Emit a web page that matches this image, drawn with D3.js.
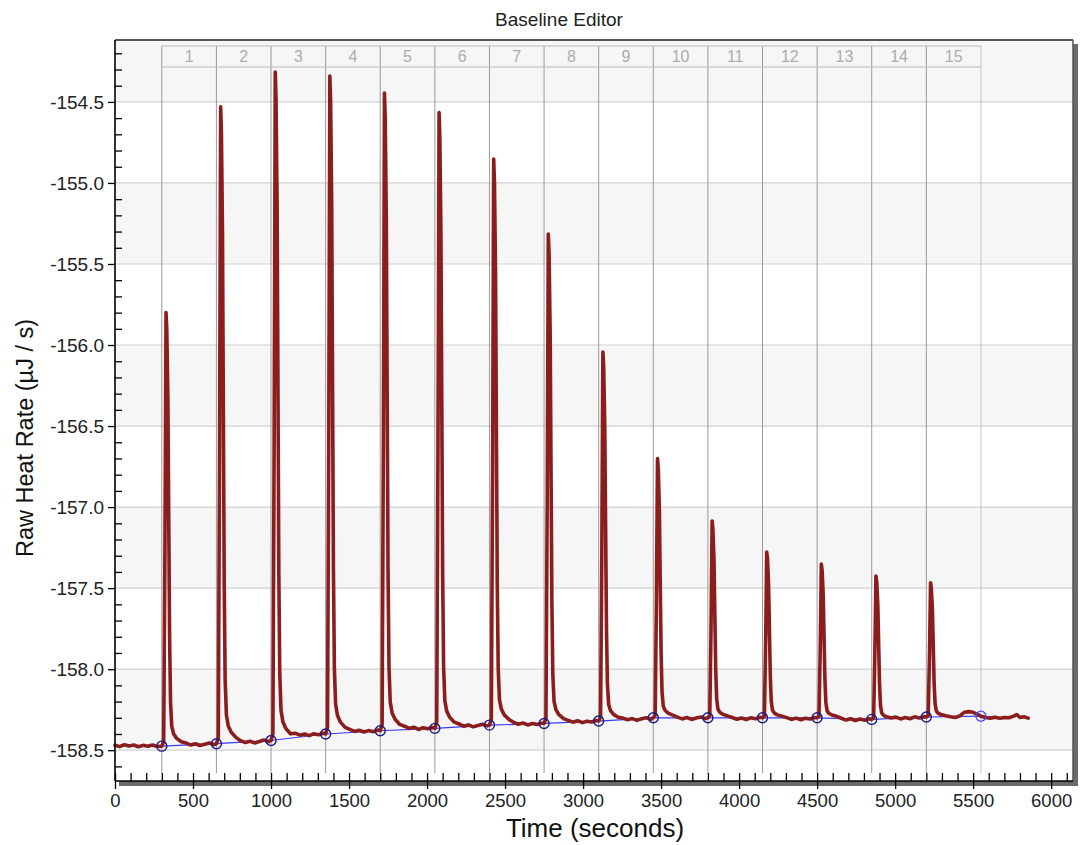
<!DOCTYPE html>
<html><head><meta charset="utf-8">
<script src="https://cdn.jsdelivr.net/npm/d3@7"></script>
<style>body{margin:0;background:#fff}svg{display:block}text{font-family:"Liberation Sans",Arial,sans-serif}</style>
</head><body><svg id="c" width="1080" height="845"></svg>
<script>
const chartTitle = "Baseline Editor";
const xTitle = "Time (seconds)";
const yTitle = "Raw Heat Rate (\u00b5J / s)";
const xMajorTicks = [0,500,1000,1500,2000,2500,3000,3500,4000,4500,5000,5500,6000];
const yMajorTicks = [-154.5,-155.0,-155.5,-156.0,-156.5,-157.0,-157.5,-158.0,-158.5];
const injectionLabels = ["1","2","3","4","5","6","7","8","9","10","11","12","13","14","15"];
const injectionTimes = [300,650,1000,1350,1700,2050,2400,2750,3100,3450,3800,4150,4500,4850,5200,5550];
const baselineValues = [-158.475,-158.46,-158.44,-158.40,-158.38,-158.365,-158.345,-158.335,-158.32,-158.30,-158.30,-158.30,-158.30,-158.31,-158.295,-158.29];
const rawTrace = [
[0,-158.470],[30,-158.478],[60,-158.466],[90,-158.474],[120,-158.468],[150,-158.479],[180,-158.470],[210,-158.476],[240,-158.468],[270,-158.477],
[300,-158.475],[312,-158.448],[320,-157.271],[327,-155.800],[332,-155.907],[339,-156.335],[345,-157.137],[350,-157.806],[356,-158.207],[364,-158.355],[376,-158.400],[395,-158.427],[425,-158.448],[455,-158.455],[485,-158.468],[515,-158.460],[545,-158.471],[575,-158.463],[605,-158.456],[635,-158.466],
[650,-158.460],[662,-158.421],[670,-156.691],[677,-154.530],[682,-154.687],[689,-155.316],[695,-156.495],[700,-157.477],[706,-158.067],[714,-158.283],[726,-158.350],[745,-158.389],[775,-158.421],[805,-158.442],[835,-158.452],[865,-158.445],[895,-158.455],[925,-158.446],[955,-158.437],[985,-158.447],
[1000,-158.440],[1012,-158.399],[1020,-156.584],[1027,-154.315],[1032,-154.480],[1039,-155.140],[1045,-156.377],[1050,-157.409],[1056,-158.027],[1064,-158.254],[1076,-158.324],[1095,-158.366],[1125,-158.399],[1155,-158.395],[1185,-158.407],[1215,-158.400],[1245,-158.410],[1275,-158.398],[1305,-158.404],[1335,-158.396],
[1350,-158.400],[1362,-158.359],[1370,-156.573],[1377,-154.340],[1382,-154.502],[1389,-155.152],[1395,-156.370],[1400,-157.385],[1406,-157.994],[1414,-158.217],[1426,-158.286],[1445,-158.327],[1475,-158.359],[1505,-158.372],[1535,-158.384],[1565,-158.377],[1595,-158.388],[1625,-158.379],[1655,-158.386],[1685,-158.376],
[1700,-158.380],[1712,-158.341],[1720,-156.609],[1727,-154.445],[1732,-154.602],[1739,-155.232],[1745,-156.412],[1750,-157.396],[1756,-157.986],[1764,-158.203],[1776,-158.270],[1795,-158.309],[1825,-158.341],[1855,-158.352],[1885,-158.366],[1915,-158.358],[1945,-158.372],[1975,-158.361],[2005,-158.368],[2035,-158.360],
[2050,-158.365],[2062,-158.327],[2070,-156.655],[2077,-154.566],[2082,-154.718],[2089,-155.326],[2095,-156.465],[2100,-157.415],[2106,-157.985],[2114,-158.194],[2126,-158.259],[2145,-158.297],[2175,-158.327],[2205,-158.338],[2235,-158.352],[2265,-158.344],[2295,-158.356],[2325,-158.347],[2355,-158.340],[2385,-158.350],
[2400,-158.345],[2412,-158.310],[2420,-156.773],[2427,-154.852],[2432,-154.992],[2439,-155.551],[2445,-156.598],[2450,-157.472],[2456,-157.996],[2464,-158.188],[2476,-158.247],[2495,-158.282],[2525,-158.310],[2555,-158.328],[2585,-158.340],[2615,-158.332],[2645,-158.344],[2675,-158.335],[2705,-158.341],[2735,-158.333],
[2750,-158.335],[2762,-158.305],[2770,-156.976],[2777,-155.315],[2782,-155.436],[2789,-155.919],[2795,-156.825],[2800,-157.580],[2806,-158.033],[2814,-158.199],[2826,-158.250],[2845,-158.281],[2875,-158.305],[2905,-158.316],[2935,-158.327],[2965,-158.318],[2995,-158.330],[3025,-158.321],[3055,-158.326],[3085,-158.317],
[3100,-158.320],[3112,-158.297],[3120,-157.295],[3127,-156.043],[3132,-156.134],[3139,-156.498],[3145,-157.181],[3150,-157.751],[3156,-158.092],[3164,-158.218],[3176,-158.256],[3195,-158.279],[3225,-158.297],[3255,-158.302],[3285,-158.312],[3315,-158.305],[3345,-158.316],[3375,-158.306],[3405,-158.300],[3435,-158.309],
[3450,-158.300],[3462,-158.284],[3470,-157.580],[3477,-156.700],[3482,-156.764],[3489,-157.020],[3495,-157.500],[3500,-157.900],[3506,-158.140],[3514,-158.228],[3526,-158.255],[3545,-158.271],[3575,-158.284],[3605,-158.296],[3635,-158.307],[3665,-158.298],[3695,-158.310],[3725,-158.301],[3755,-158.295],[3785,-158.305],
[3800,-158.300],[3812,-158.288],[3820,-157.754],[3827,-157.086],[3832,-157.135],[3839,-157.329],[3845,-157.693],[3850,-157.996],[3856,-158.179],[3864,-158.245],[3876,-158.266],[3895,-158.278],[3925,-158.288],[3955,-158.298],[3985,-158.309],[4015,-158.301],[4045,-158.311],[4075,-158.300],[4105,-158.306],[4135,-158.297],
[4150,-158.300],[4162,-158.290],[4170,-157.840],[4177,-157.278],[4182,-157.319],[4189,-157.482],[4195,-157.789],[4200,-158.044],[4206,-158.198],[4214,-158.254],[4226,-158.271],[4245,-158.282],[4275,-158.290],[4305,-158.299],[4335,-158.310],[4365,-158.302],[4395,-158.312],[4425,-158.303],[4455,-158.308],[4485,-158.298],
[4500,-158.300],[4512,-158.291],[4520,-157.873],[4527,-157.352],[4532,-157.390],[4539,-157.542],[4545,-157.826],[4550,-158.063],[4556,-158.205],[4564,-158.257],[4576,-158.273],[4595,-158.283],[4625,-158.291],[4655,-158.303],[4685,-158.314],[4715,-158.306],[4745,-158.317],[4775,-158.308],[4805,-158.315],[4835,-158.306],
[4850,-158.310],[4862,-158.301],[4870,-157.912],[4877,-157.426],[4882,-157.461],[4889,-157.603],[4895,-157.868],[4900,-158.089],[4906,-158.222],[4914,-158.270],[4926,-158.285],[4945,-158.294],[4975,-158.301],[5005,-158.296],[5035,-158.307],[5065,-158.298],[5095,-158.306],[5125,-158.294],[5155,-158.301],[5185,-158.293],
[5200,-158.295],[5212,-158.287],[5220,-157.922],[5227,-157.467],[5232,-157.500],[5239,-157.633],[5245,-157.881],[5250,-158.088],[5256,-158.212],[5264,-158.258],[5276,-158.272],[5295,-158.280],[5325,-158.287],[5355,-158.293],[5385,-158.298],[5415,-158.288],[5440,-158.268],[5470,-158.262],[5500,-158.266],[5530,-158.280],[5550,-158.290],[5580,-158.298],[5610,-158.302],[5640,-158.296],[5670,-158.303],[5700,-158.298],[5730,-158.300],[5760,-158.290],[5780,-158.280],[5800,-158.298],[5825,-158.294],[5853,-158.302]
];

const svg = d3.select("#c");
const L = 115, R = 1073, T = 40, B = 781;
const x = d3.scaleLinear().domain([0, 6140]).range([L, R]);
const y = d3.scaleLinear().domain([-158.69, -154.118]).range([B, T]);

// shadow
svg.append("rect").attr("x", R).attr("y", T + 4).attr("width", 5).attr("height", B - T + 1).attr("fill", "#6a6a6a");
svg.append("rect").attr("x", L + 4).attr("y", B).attr("width", R - L + 1).attr("height", 5).attr("fill", "#6a6a6a");
// plot background
svg.append("rect").attr("x", L).attr("y", T).attr("width", R - L).attr("height", B - T).attr("fill", "#fff");

// alternating bands
const edges = [y.domain()[1], ...yMajorTicks, y.domain()[0]];
for (let i = 0; i < edges.length - 1; i++) {
  if (i % 2 === 0) {
    svg.append("rect").attr("x", L).attr("width", R - L)
      .attr("y", y(edges[i])).attr("height", y(edges[i + 1]) - y(edges[i]))
      .attr("fill", "#f6f6f6");
  }
}
// horizontal grid
svg.append("g").selectAll("line").data(yMajorTicks).join("line")
  .attr("x1", L).attr("x2", R).attr("y1", d => y(d)).attr("y2", d => y(d))
  .attr("stroke", "#d2d2d2").attr("stroke-width", 1.2);

// injection header + vertical lines
const hTop = 46, hBot = 67, vBot = 773;
svg.append("g").selectAll("line").data(injectionTimes).join("line")
  .attr("x1", d => x(d)).attr("x2", d => x(d)).attr("y1", hTop).attr("y2", vBot)
  .attr("stroke", (d, i) => i === injectionTimes.length - 1 ? "#c4c4c4" : "#9a9a9a").attr("stroke-width", 1);
[hTop, hBot].forEach(yy => svg.append("line")
  .attr("x1", x(injectionTimes[0])).attr("x2", x(injectionTimes[injectionTimes.length - 1]))
  .attr("y1", yy).attr("y2", yy).attr("stroke", "#b8b8b8").attr("stroke-width", 1.2));
svg.append("g").selectAll("text").data(injectionLabels).join("text")
  .attr("x", (d, i) => (x(injectionTimes[i]) + x(injectionTimes[i + 1])) / 2)
  .attr("y", 62).attr("text-anchor", "middle").attr("font-size", 16).attr("fill", "#ababab")
  .text(d => d);

// baseline
svg.append("path").datum(injectionTimes.map((t, i) => [t, baselineValues[i]]))
  .attr("d", d3.line().x(d => x(d[0])).y(d => y(d[1])))
  .attr("fill", "none").attr("stroke", "#3a3af0").attr("stroke-width", 1.2);

// raw trace
svg.append("path").datum(rawTrace)
  .attr("d", d3.line().x(d => x(d[0])).y(d => y(d[1])))
  .attr("fill", "none").attr("stroke", "#8c1d1d").attr("stroke-width", 3.6)
  .attr("stroke-linejoin", "round").attr("stroke-linecap", "round");

// baseline points
svg.append("g").selectAll("circle").data(injectionTimes).join("circle")
  .attr("cx", d => x(d)).attr("cy", (d, i) => y(baselineValues[i])).attr("r", 5)
  .attr("fill", "none")
  .attr("stroke", (d, i) => i === injectionTimes.length - 1 ? "#4a4aff" : "#1c1c80").attr("stroke-width", 1.4);

// border top/right
svg.append("line").attr("x1", L).attr("x2", R).attr("y1", T).attr("y2", T).attr("stroke", "#555").attr("stroke-width", 2);
svg.append("line").attr("x1", R).attr("x2", R).attr("y1", T).attr("y2", B).attr("stroke", "#555").attr("stroke-width", 1.5);

// axes
const yAxisG = svg.append("g").attr("transform", `translate(${L},0)`);
yAxisG.call(d3.axisLeft(y).tickValues(yMajorTicks).tickSize(7).tickFormat(d => d.toFixed(1)));
const yMinor = d3.range(-158.6, -154.15, 0.1).map(v => +v.toFixed(1)).filter(v => !yMajorTicks.includes(v));
yAxisG.append("g").call(d3.axisRight(y).tickValues(yMinor).tickSize(7).tickFormat(""))
  .call(g => g.select(".domain").remove());
yAxisG.selectAll(".domain").attr("d", `M0,${T}V${B}`).attr("stroke", "#000").attr("stroke-width", 1.6);
yAxisG.selectAll(".tick line").attr("stroke", "#000").attr("stroke-width", 1.3);
yAxisG.selectAll(".tick text").attr("font-size", 19).attr("fill", "#222").attr("x", -11)
  .style("font-family", '"Liberation Sans",Arial,sans-serif');

const xAxisG = svg.append("g").attr("transform", `translate(0,${B})`);
xAxisG.call(d3.axisBottom(x).tickValues(xMajorTicks).tickSizeInner(8).tickSizeOuter(0).tickFormat(d => d));
xAxisG.selectAll(".tick line").attr("y1", -8).attr("y2", 8);
const xMinor = d3.range(100, 6101, 100).filter(v => v % 500 !== 0);
xAxisG.append("g").call(d3.axisTop(x).tickValues(xMinor).tickSize(8).tickFormat(""))
  .call(g => g.select(".domain").remove());
xAxisG.select(".domain").attr("d", `M${L},0H${R}`).attr("stroke", "#000").attr("stroke-width", 1.6);
xAxisG.selectAll(".tick line").attr("stroke", "#000").attr("stroke-width", 1.3);
xAxisG.selectAll(".tick text").attr("font-size", 18.5).attr("fill", "#222").attr("y", 13)
  .style("font-family", '"Liberation Sans",Arial,sans-serif');

// titles
svg.append("text").attr("x", 559).attr("y", 26).attr("text-anchor", "middle")
  .attr("font-size", 19).attr("fill", "#222").text(chartTitle);
svg.append("text").attr("x", 595).attr("y", 837).attr("text-anchor", "middle")
  .attr("font-size", 26).attr("fill", "#111").text(xTitle);
svg.append("text").attr("transform", "translate(33,438) rotate(-90)").attr("text-anchor", "middle")
  .attr("font-size", 23.5).attr("fill", "#111").text(yTitle);
</script></body></html>
